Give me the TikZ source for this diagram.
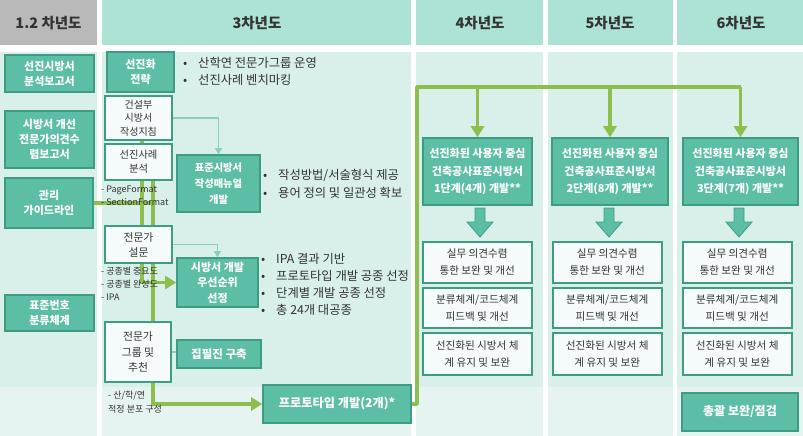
\documentclass[tikz,border=0pt]{standalone}
\usepackage{fontspec}
\setmainfont{Noto Sans CJK KR}
\usetikzlibrary{arrows.meta}
\definecolor{headgray}{HTML}{B9B9B9}
\definecolor{headteal}{HTML}{ADE3D6}
\definecolor{bodyA}{HTML}{D9EFEA}
\definecolor{bodyB}{HTML}{E5F4F0}
\definecolor{tealfill}{HTML}{5CBFA5}
\definecolor{tealdark}{HTML}{3E9C84}
\definecolor{boxwhite}{HTML}{F5FBFA}
\definecolor{gline}{HTML}{8CBF4E}
\definecolor{tline}{HTML}{86D0BC}
\definecolor{txt}{HTML}{333333}
\pgfdeclarelayer{bg}
\pgfdeclarelayer{lines}
\pgfsetlayers{bg,lines,main}
\begin{document}
\begin{tikzpicture}[x=1pt,y=-1pt,
  headtxt/.style={font=\fontsize{14.5}{16}\selectfont\bfseries, text=txt},
  tealbox/.style={draw=tealdark, fill=tealfill, line width=1.6pt, text=white, align=center, inner sep=0pt, font=\fontsize{11}{15}\selectfont\bfseries},
  whitebox/.style={draw=tealdark, fill=boxwhite, line width=1.6pt, text=txt, align=center, inner sep=0pt, font=\fontsize{10}{14}\selectfont},
  bul/.style={anchor=west, inner sep=0pt, text=txt, font=\fontsize{12.3}{14}\selectfont},
  small/.style={anchor=west, inner sep=0pt, text=txt, font=\fontsize{9}{10}\selectfont},
  gpath/.style={draw=gline, line width=3.5pt},
  garrow/.style={gpath, -{Triangle[length=11pt,width=13pt]}},
  tarrow/.style={draw=tline, line width=1.3pt, -{Triangle[length=6pt,width=7pt]}},
  barrow/.style={fill=tealfill, draw=tealdark, line width=0.8pt}
]
\useasboundingbox (0,0) rectangle (803,436);
\begin{pgfonlayer}{bg}
\fill[white] (0,0) rectangle (803,436);
\fill[headgray] (0,0) rectangle (97,45);
\foreach \a/\b in {102/411,416/543,548/673,677/803} {\fill[headteal] (\a,0) rectangle (\b,45);}
\foreach \a/\b in {0/97,102/411,416/543,548/673,677/803} {
  \fill[bodyA] (\a,52) rectangle (\b,387);
  \fill[bodyB] (\a,387) rectangle (\b,436);
}
\end{pgfonlayer}

% headers
\node[headtxt] (h1) at (48.5,23) {1.2 차년도};
\node[headtxt] (h2) at (257,23) {3차년도};
\node[headtxt] (h3) at (480,23) {4차년도};
\node[headtxt] (h4) at (610,23) {5차년도};
\node[headtxt] (h5) at (741,23) {6차년도};

% column 1
\node[tealbox, minimum width=89pt, minimum height=37pt] (a1) at (49.5,73.5) {선진시방서\\분석보고서};
\node[tealbox, minimum width=89pt, minimum height=57pt] (a2) at (49.5,139.5) {시방서 개선\\전문가의견수\\렴보고서};
\node[tealbox, minimum width=88pt, minimum height=50pt] (a3) at (49,203) {관리\\가이드라인};
\node[tealbox, minimum width=89pt, minimum height=36pt] (a4) at (49.5,313) {표준번호\\분류체계};

% column 2
\node[tealbox, minimum width=67pt, minimum height=40pt] (b1) at (140.5,72) {선진화\\전략};
\node[whitebox, minimum width=67pt, minimum height=44pt, font=\fontsize{10}{13.5}\selectfont] (b2) at (138.5,118) {건설부\\시방서\\작성지침};
\node[whitebox, minimum width=67pt, minimum height=36pt, font=\fontsize{10.3}{14}\selectfont] (b3) at (138.5,162) {선진사례\\분석};
\node[tealbox, minimum width=83pt, minimum height=57pt, font=\fontsize{10.3}{16}\selectfont\bfseries] (b4) at (218.5,183.5) {표준시방서\\작성매뉴얼\\개발};
\node[whitebox, minimum width=67pt, minimum height=37pt, font=\fontsize{10.8}{15}\selectfont] (b5) at (138.5,244.5) {전문가\\설문};
\node[tealbox, minimum width=81pt, minimum height=49pt, font=\fontsize{11}{15.5}\selectfont\bfseries] (b6) at (217.5,282.5) {시방서 개발\\우선순위\\선정};
\node[whitebox, minimum width=66pt, minimum height=60pt, font=\fontsize{10.8}{15.5}\selectfont] (b7) at (138,352) {전문가\\그룹 및\\추천};
\node[tealbox, minimum width=84pt, minimum height=28pt, font=\fontsize{11.5}{14}\selectfont\bfseries] (b8) at (219,354) {집필진 구축};
\node[tealbox, minimum width=148pt, minimum height=38pt, font=\fontsize{12.2}{14}\selectfont\bfseries] (b9) at (337,404) {프로토타입 개발(2개)*};

% bullets
\node[bul] (u1) at (183,63) {\makebox[15pt][l]{•}산학연 전문가그룹 운영};
\node[bul] (u2) at (183,80) {\makebox[15pt][l]{•}선진사례 벤치마킹};
\node[bul] (u3) at (263,175) {\makebox[15pt][l]{•}작성방법/서술형식 제공};
\node[bul] (u4) at (263,193) {\makebox[15pt][l]{•}용어 정의 및 일관성 확보};
\node[bul] (u5) at (261,259) {\makebox[15pt][l]{•}IPA 결과 기반};
\node[bul] (u6) at (261,276) {\makebox[15pt][l]{•}프로토타입 개발 공종 선정};
\node[bul] (u7) at (261,293) {\makebox[15pt][l]{•}단계별 개발 공종 선정};
\node[bul] (u8) at (261,310) {\makebox[15pt][l]{•}총 24개 대공종};

% small notes
\node[small] (n1) at (101,190) {- PageFormat};
\node[small] (n2) at (101,202) {- SectionFormat};
\node[small] (n3) at (101,271) {- 공종별 중요도};
\node[small] (n4) at (101,284) {- 공종별 완성도};
\node[small] (n5) at (101,297) {- IPA};
\node[small] (n6) at (108,396) {- 산/학/연};
\node[small] (n7) at (108,409) {적정 분포 구성};

% columns 3-5
\node[tealbox, minimum width=109pt, minimum height=67pt, font=\fontsize{11}{17.5}\selectfont\bfseries] (c1) at (477.5,171.5) {선진화된 사용자 중심\\건축공사표준시방서\\1단계(4개) 개발**};
\node[tealbox, minimum width=116pt, minimum height=67pt, font=\fontsize{11}{17.5}\selectfont\bfseries] (c2) at (610,171.5) {선진화된 사용자 중심\\건축공사표준시방서\\2단계(8개) 개발**};
\node[tealbox, minimum width=115pt, minimum height=67pt, font=\fontsize{11}{17.5}\selectfont\bfseries] (c3) at (740.5,171.5) {선진화된 사용자 중심\\건축공사표준시방서\\3단계(7개) 개발**};

\foreach \col/\cx in {d/477.2,e/607.2,f/737.2} {
  \node[whitebox, minimum width=109pt, minimum height=41pt, font=\fontsize{10.6}{17}\selectfont] (\col1) at (\cx,262.5) {실무 의견수렴\\통한 보완 및 개선};
  \node[whitebox, minimum width=109pt, minimum height=40pt, font=\fontsize{10.6}{17}\selectfont] (\col2) at (\cx,308) {분류체계/코드체계\\피드백 및 개선};
  \node[whitebox, minimum width=109pt, minimum height=42pt, font=\fontsize{10.6}{17}\selectfont] (\col3) at (\cx,354) {선진화된 시방서 체\\계 유지 및 보완};
}
\node[tealbox, minimum width=116pt, minimum height=38pt, font=\fontsize{12}{14}\selectfont\bfseries] (g1) at (740,412) {총괄 보완/점검};

% block arrows
\foreach \n/\x in {c1/480,c2/609,c3/739} {
  \draw[barrow] (\x,208) -- ++(5,0) -- ++(0,14) -- ++(8,0) -- ++(-13,15) -- ++(-13,-15) -- ++(8,0) -- ++(0,-14) -- cycle;
}

% connectors
\coordinate (t1) at (142,118);
\coordinate (t2) at (153,165);
\coordinate (tr) at (417,87);
\begin{pgfonlayer}{lines}
\draw[garrow] (t1) |- (b6.west);
\draw[garrow] (t2) |- (b9.west);
\draw[gpath] (a3.east) -- (a3.east -| t2);
\end{pgfonlayer}
\draw[gpath, line join=round] (b9.east) -| (tr) -- (tr -| c3.north);
\draw[garrow] (tr -| c1.north) -- (c1.north);
\draw[garrow] (tr -| c2.north) -- (c2.north);
\draw[garrow] (tr -| c3.north) -- (c3.north);
\draw[tarrow] (b2.east) -| (b4.north);
\draw[tarrow] (b5.east) -| (b6.north);
\draw[draw=tline, line width=1.3pt] (b7.east) -- (b7.east -| b8.west);
\end{tikzpicture}
\end{document}
